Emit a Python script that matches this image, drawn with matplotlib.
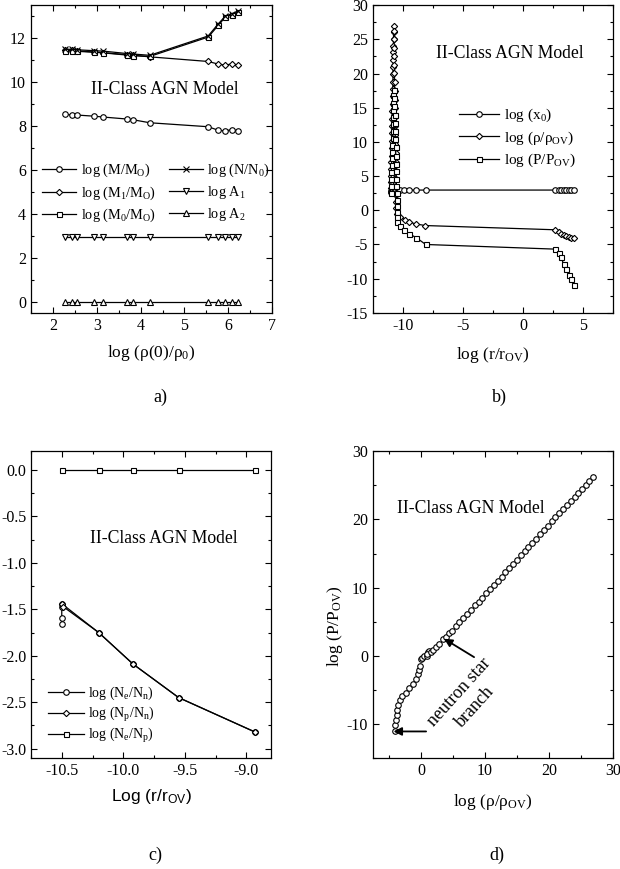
import matplotlib
matplotlib.use("Agg")
import matplotlib.pyplot as plt
from matplotlib.ticker import MultipleLocator

plt.rcParams['font.family'] = ['Liberation Serif', 'DejaVu Serif']
plt.rcParams['mathtext.fontset'] = 'custom'
plt.rcParams['mathtext.rm'] = 'Liberation Serif'
plt.rcParams['mathtext.it'] = 'Liberation Serif:italic'
plt.rcParams['mathtext.sf'] = 'Liberation Sans'
plt.rcParams['axes.unicode_minus'] = False
plt.rcParams['axes.linewidth'] = 0.9

# ---- a) global quantities vs central density
a_x = [2.27, 2.43, 2.56, 2.94, 3.15, 3.69, 3.82, 4.21, 5.54, 5.77, 5.93, 6.08, 6.23]
log_M = [8.53, 8.51, 8.50, 8.45, 8.41, 8.32, 8.29, 8.15, 7.97, 7.81, 7.78, 7.84, 7.77]
log_M1 = [11.45, 11.44, 11.42, 11.37, 11.34, 11.25, 11.22, 11.15, 10.94, 10.82, 10.77, 10.83, 10.76]
log_M0 = [11.43, 11.42, 11.40, 11.36, 11.33, 11.23, 11.21, 11.17, 12.05, 12.58, 12.96, 13.07, 13.17]
log_N = [11.50, 11.49, 11.47, 11.43, 11.41, 11.30, 11.28, 11.22, 12.10, 12.65, 13.00, 13.12, 13.22]
log_A1 = [2.97, 2.97, 2.97, 2.97, 2.97, 2.97, 2.97, 2.97, 2.97, 2.97, 2.97, 2.97, 2.97]
log_A2 = [0.0, 0.0, 0.0, 0.0, 0.0, 0.0, 0.0, 0.0, 0.0, 0.0, 0.0, 0.0, 0.0]

# ---- b) profiles vs radius
b_x0_x = [-11.02, -10.99, -10.96, -10.93, -10.90, -10.87, -10.84, -10.61, -10.22, -9.92,
          -9.53, -8.89, -8.11, 2.69, 3.00, 3.19, 3.39, 3.61, 3.81, 4.03, 4.22]
b_x0_y = [2.72, 2.75, 2.74, 2.78, 2.80, 2.82, 2.85, 2.96, 2.96, 2.96,
          2.96, 2.96, 2.96, 2.96, 2.96, 2.96, 2.96, 2.96, 2.96, 2.96, 2.96]

b_rho_x = [-11.02, -11.00, -10.99, -10.97, -10.96, -10.95, -10.93, -10.92, -10.91, -10.90,
           -10.89, -10.88, -10.87, -10.86, -10.85, -10.84, -10.83, -10.82, -10.81, -10.81,
           -10.80, -10.79, -10.79, -10.78,
           -10.76, -10.75, -10.74, -10.73, -10.72, -10.71, -10.70, -10.69, -10.68, -10.67,
           -10.66, -10.65, -10.64, -10.63, -10.62, -10.61, -10.60, -10.59, -10.58, -10.57,
           -10.56, -10.55, -10.52,
           -10.22, -9.86, -9.50, -8.92, -8.14, 2.69, 3.00, 3.19, 3.39, 3.61, 3.81, 4.03, 4.22]
b_rho_y = [3.2, 4.1, 5.0, 6.0, 7.1, 8.0, 9.1, 10.2, 11.3, 12.3,
           13.4, 14.5, 15.6, 16.7, 17.7, 18.8, 19.9, 21.0, 22.0, 23.1,
           24.1, 25.1, 26.1, 27.0,
           26.2, 25.0, 23.8, 22.5, 21.3, 20.1, 18.8, 17.5, 16.2, 14.9,
           13.6, 12.3, 11.0, 9.7, 8.4, 7.1, 5.8, 4.6, 3.4, 2.3,
           1.2, 0.3, -0.5,
           -1.0, -1.36, -1.70, -2.00, -2.23, -2.85, -3.16, -3.45, -3.64, -3.79, -3.88, -3.98, -4.03]

b_P_x = [-11.03, -11.01, -10.99, -10.97, -10.95, -10.93, -10.91, -10.89, -10.87, -10.86,
         -10.85, -10.84, -10.83, -10.82, -10.81, -10.79,
         -10.74, -10.72, -10.70, -10.68, -10.66, -10.64, -10.62, -10.60, -10.58, -10.57,
         -10.56, -10.55, -10.54, -10.53, -10.52, -10.51, -10.50, -10.50,
         -10.22, -9.92, -9.53, -8.89, -8.11, 2.69, 3.00, 3.19, 3.39, 3.61, 3.81, 4.03, 4.22]
b_P_y = [2.6, 3.6, 4.6, 5.6, 6.6, 7.6, 8.6, 9.6, 10.6, 11.6,
         12.6, 13.6, 14.6, 15.7, 16.8, 17.6,
         16.4, 15.2, 14.0, 12.8, 11.6, 10.4, 9.2, 8.0, 6.8, 5.7,
         4.6, 3.5, 2.5, 1.5, 0.6, -0.3, -1.0, -1.7,
         -2.3, -2.9, -3.4, -4.0, -5.0, -5.68, -6.3, -6.9, -7.9, -8.6, -9.4, -10.1, -10.9]

# ---- c) particle number ratios
c_x = [-10.5, -10.5, -10.5, -10.5, -10.2, -9.92, -9.55, -8.93]
c_ne_nn = [-1.66, -1.59, -1.48, -1.44, -1.75, -2.09, -2.45, -2.82]
c_np_x = [-10.5, -10.49, -10.2, -9.92, -9.55, -8.93]
c_np_nn = [-1.44, -1.47, -1.75, -2.09, -2.45, -2.82]
c_sq_x = [-10.5, -10.2, -9.92, -9.55, -8.93]
c_ne_np = [0.0, 0.0, 0.0, 0.0, 0.0]

# ---- d) equation of state
d_rho = [-4.0, -4.0, -3.9, -3.8, -3.7, -3.6, -3.3, -2.9, -2.4, -1.8,
         -1.3, -0.8, -0.5, -0.3, -0.1, 0.0, 0.2, 0.5, 0.9, 1.1,
         1.2, 1.0, 1.6, 1.9, 2.3, 2.8, 3.5, 3.9, 4.4, 4.8,
         5.4, 6.0, 6.6, 7.2, 7.8, 8.5, 9.0, 9.6, 10.2, 10.8,
         11.4, 12.0, 12.6, 13.2, 13.8, 14.4, 15.0, 15.6, 16.2, 16.8,
         17.4, 18.0, 18.6, 19.2, 19.8, 20.4, 21.0, 21.6, 22.2, 22.8,
         23.4, 24.0, 24.6, 25.2, 25.8, 26.3, 26.9]
d_P = [-11.0, -10.1, -9.4, -8.7, -7.9, -7.2, -6.5, -5.9, -5.4, -4.8,
       -4.1, -3.4, -2.7, -2.1, -1.5, -0.5, -0.3, 0.0, -0.1, 0.5,
       0.7, 0.2, 0.6, 0.9, 1.3, 1.8, 2.4, 2.8, 3.3, 3.6,
       4.3, 4.9, 5.5, 6.1, 6.7, 7.4, 7.9, 8.5, 9.2, 9.8,
       10.4, 11.0, 11.6, 12.3, 12.9, 13.5, 14.1, 14.8, 15.4, 16.0,
       16.6, 17.2, 17.9, 18.5, 19.1, 19.7, 20.3, 20.9, 21.5, 22.1,
       22.7, 23.3, 23.9, 24.5, 25.1, 25.6, 26.2]

title = "II-Class AGN Model"
mk = dict(mfc='white', mec='black', mew=0.8, color='black', lw=0.9)


def style(ax, xmaj, xmin, ymaj, ymin):
    ax.xaxis.set_major_locator(MultipleLocator(xmaj))
    ax.xaxis.set_minor_locator(MultipleLocator(xmin))
    ax.yaxis.set_major_locator(MultipleLocator(ymaj))
    ax.yaxis.set_minor_locator(MultipleLocator(ymin))
    ax.tick_params(which='both', direction='in', top=True, right=True, labelsize=11.5)
    ax.tick_params(which='major', length=4, width=0.8, pad=3.5)
    ax.tick_params(which='minor', length=2, width=0.8)


fig = plt.figure(figsize=(6.2, 8.69), dpi=100)
ax_a = fig.add_axes([0.05, 0.640, 0.389, 0.354])
ax_b = fig.add_axes([0.6016, 0.640, 0.387, 0.354])
ax_c = fig.add_axes([0.05, 0.1277, 0.387, 0.353])
ax_d = fig.add_axes([0.6016, 0.1277, 0.387, 0.353])

# a)
ax_a.plot(a_x, log_M, marker='o', ms=4, label='log (M/M$_{\\rm O}$)', **mk)
ax_a.plot(a_x, log_M1, marker='D', ms=3.2, label='log (M$_1$/M$_{\\rm O}$)', **mk)
ax_a.plot(a_x, log_M0, marker='s', ms=3.6, label='log (M$_0$/M$_{\\rm O}$)', **mk)
ax_a.plot(a_x, log_N, marker='x', ms=4, label='log (N/N$_0$)', **mk)
ax_a.plot(a_x, log_A1, marker='v', ms=4.5, label='log A$_1$', **mk)
ax_a.plot(a_x, log_A2, marker='^', ms=4.5, label='log A$_2$', **mk)
ax_a.set_xlim(1.5, 7)
ax_a.set_ylim(-0.5, 13.5)
style(ax_a, 1, 0.5, 2, 1)
ax_a.text(0.556, 0.726, title, transform=ax_a.transAxes, ha='center', va='center', fontsize=12.7)
ax_a.legend(ncol=2, loc='upper left', bbox_to_anchor=(0.046, 0.49), frameon=False, fontsize=10.3,
            handlelength=2.4, columnspacing=0.9, handletextpad=0.3, labelspacing=0.35,
            borderaxespad=0, borderpad=0, numpoints=1)
ax_a.text(0.5, -0.129, 'log (ρ(0)/ρ$_0$)', transform=ax_a.transAxes, ha='center', va='center', fontsize=12.5)

# b)
ax_b.plot(b_x0_x, b_x0_y, marker='o', ms=4, label='log (x$_0$)', **mk)
ax_b.plot(b_rho_x, b_rho_y, marker='D', ms=3.2, label='log (ρ/ρ$_{\\rm OV}$)', **mk)
ax_b.plot(b_P_x, b_P_y, marker='s', ms=3.6, label='log (P/P$_{\\rm OV}$)', **mk)
ax_b.set_xlim(-12.5, 7.5)
ax_b.set_ylim(-15, 30)
style(ax_b, 5, 2.5, 5, 2.5)
ax_b.text(0.571, 0.843, title, transform=ax_b.transAxes, ha='center', va='center', fontsize=12.7)
ax_b.legend(loc='upper left', bbox_to_anchor=(0.36, 0.67), frameon=False, fontsize=11,
            handlelength=2.6, handletextpad=0.3, labelspacing=0.35,
            borderaxespad=0, borderpad=0, numpoints=1)
ax_b.text(0.5, -0.136, 'log (r/r$_{\\rm OV}$)', transform=ax_b.transAxes, ha='center', va='center', fontsize=12.5)

# c)
ax_c.plot(c_x, c_ne_nn, marker='o', ms=4, label='log (N$_{\\rm e}$/N$_{\\rm n}$)', **mk)
ax_c.plot(c_np_x, c_np_nn, marker='D', ms=3.2, label='log (N$_{\\rm p}$/N$_{\\rm n}$)', **mk)
ax_c.plot(c_sq_x, c_ne_np, marker='s', ms=3.6, label='log (N$_{\\rm e}$/N$_{\\rm p}$)', **mk)
ax_c.set_xlim(-10.75, -8.8)
ax_c.set_ylim(-3.1, 0.2)
style(ax_c, 0.5, 0.25, 0.5, 0.25)
ax_c.text(0.553, 0.716, title, transform=ax_c.transAxes, ha='center', va='center', fontsize=12.7)
ax_c.legend(loc='upper left', bbox_to_anchor=(0.07, 0.24), frameon=False, fontsize=10,
            handlelength=2.6, handletextpad=0.3, labelspacing=0.2,
            borderaxespad=0, borderpad=0, numpoints=1)
ax_c.text(0.5, -0.126, 'Log (r/r$_{\\mathsf{OV}}$)', transform=ax_c.transAxes, ha='center', va='center',
          fontsize=12.5, family='Liberation Sans')

# d)
ax_d.plot(d_rho, d_P, ls='none', marker='o', ms=4, mfc='white', mec='black', mew=0.8)
ax_d.set_xlim(-7.5, 30)
ax_d.set_ylim(-15, 30)
style(ax_d, 10, 5, 10, 5)
ax_d.text(0.408, 0.813, title, transform=ax_d.transAxes, ha='center', va='center', fontsize=12.7)
ax_d.annotate('', xy=(3.6, 2.5), xytext=(8.3, -0.2),
              arrowprops=dict(arrowstyle='-|>', color='black', lw=1.3, mutation_scale=12, shrinkA=0, shrinkB=0))
ax_d.annotate('', xy=(-4.3, -11.1), xytext=(0.8, -11.1),
              arrowprops=dict(arrowstyle='-|>', color='black', lw=1.3, mutation_scale=12, shrinkA=0, shrinkB=0))
ax_d.text(7.2, -6.4, 'neutron star\nbranch', rotation=48, ha='center', va='center',
          multialignment='center', fontsize=13, linespacing=1.3)
ax_d.text(0.5, -0.142, 'log (ρ/ρ$_{\\rm OV}$)', transform=ax_d.transAxes, ha='center', va='center', fontsize=12.5)
ax_d.text(-0.158, 0.43, 'log (P/P$_{\\rm OV}$)', transform=ax_d.transAxes, ha='center', va='center',
          rotation=90, fontsize=12.5)

# panel tags
for x, y, s in [(0.258, 0.543, 'a)'), (0.806, 0.543, 'b)'), (0.25, 0.016, 'c)'), (0.8016, 0.016, 'd)')]:
    fig.text(x, y, s, ha='center', va='center', fontsize=13)

fig.savefig('out.png', dpi=100)
